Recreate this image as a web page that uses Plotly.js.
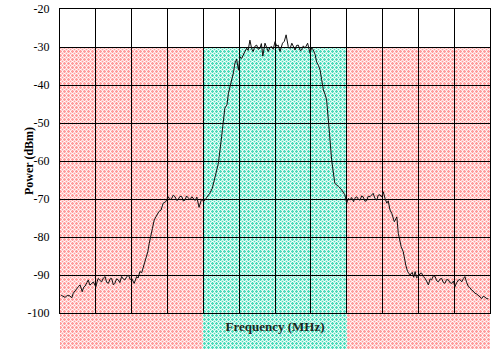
<!DOCTYPE html>
<html>
<head>
<meta charset="utf-8">
<script src="https://cdn.plot.ly/plotly-3.0.1.min.js"></script>
<style>html,body{margin:0;padding:0;background:#fff;}#chart{width:499px;height:349px;}</style>
</head>
<body>
<div id="chart"></div>
<script>
// Frequency axis in grid divisions (no tick labels shown in the original)
const freq = [
0.03,0.10,0.14,0.20,0.28,0.33,0.37,0.42,0.47,0.52,0.56,0.62,0.66,0.70,0.75,0.79,0.83,0.87,0.93,1.00,
1.04,1.07,1.12,1.16,1.21,1.26,1.30,1.35,1.40,1.44,1.49,1.53,1.58,1.63,1.67,1.72,1.77,1.81,1.86,1.91,
1.96,2.00,2.07,2.14,2.18,2.23,2.28,2.32,2.39,2.45,2.49,2.54,2.58,2.63,2.70,2.76,2.82,2.88,2.95,3.02,
3.07,3.12,3.16,3.21,3.26,3.30,3.35,3.40,3.44,3.49,3.53,3.58,3.63,3.68,3.72,3.77,3.82,3.88,3.95,4.02,
4.10,4.18,4.25,4.33,4.42,4.51,4.60,4.66,4.70,4.79,4.84,4.88,4.93,4.98,5.02,5.07,5.12,5.16,5.21,5.25,
5.30,5.35,5.39,5.44,5.49,5.53,5.58,5.62,5.66,5.72,5.77,5.81,5.86,5.91,5.95,6.00,6.05,6.09,6.14,6.18,
6.21,6.26,6.31,6.37,6.42,6.47,6.51,6.56,6.60,6.65,6.70,6.74,6.79,6.84,6.91,6.98,7.02,7.07,7.12,7.16,
7.21,7.26,7.30,7.35,7.40,7.44,7.52,7.58,7.67,7.72,7.77,7.86,7.95,8.00,8.05,8.09,8.14,8.19,8.23,8.28,
8.33,8.37,8.42,8.46,8.51,8.56,8.60,8.65,8.70,8.74,8.79,8.84,8.88,8.93,8.98,9.02,9.07,9.12,9.16,9.21,
9.26,9.33,9.40,9.44,9.52,9.58,9.65,9.70,9.77,9.83,9.87,9.91,9.95,10.00,10.05,10.09,10.14,10.19,10.23,10.28,
10.33,10.37,10.42,10.47,10.51,10.56,10.60,10.65,10.70,10.74,10.79,10.84,10.88,10.93,10.98,11.02,11.07,11.12,11.16,11.21,
11.26,11.30,11.35,11.40,11.44,11.49,11.53,11.58,11.63,11.67,11.72,11.77,11.81,11.86,11.91,11.95
];
// Measured power (dBm)
const power = [
-95.3,-95.6,-95.9,-95.4,-95.5,-96.0,-94.8,-94.2,-93.5,-93.0,-92.6,-94.4,-93.2,-92.9,-92.0,-91.3,-92.6,-92.4,-91.8,-93.1,
-91.6,-90.9,-91.5,-91.8,-90.8,-90.4,-91.9,-92.2,-91.0,-90.9,-92.6,-92.2,-91.0,-91.3,-92.0,-90.4,-91.1,-91.3,-90.5,-90.0,
-91.2,-90.9,-92.2,-90.4,-90.8,-89.1,-89.4,-88.2,-86.0,-83.9,-81.7,-79.0,-77.7,-75.5,-74.2,-73.3,-72.9,-71.1,-70.7,-69.4,
-70.2,-69.8,-69.0,-69.4,-70.4,-70.1,-69.3,-69.4,-70.5,-70.3,-69.2,-69.6,-70.2,-69.4,-70.0,-70.4,-69.5,-72.2,-70.1,-70.6,
-69.5,-68.5,-67.2,-64.1,-60.6,-53.6,-46.1,-45.2,-42.2,-38.7,-36.8,-34.3,-33.2,-36.1,-32.6,-33.0,-31.7,-31.2,-30.3,-30.9,
-28.2,-30.5,-31.2,-29.8,-29.5,-30.6,-30.3,-29.1,-32.4,-29.0,-30.2,-31.2,-30.1,-29.9,-30.6,-28.6,-29.8,-29.5,-31.2,-30.0,
-29.0,-28.5,-26.8,-29.9,-30.4,-29.0,-29.8,-30.8,-29.6,-29.5,-30.9,-30.8,-29.7,-30.3,-29.0,-31.7,-30.2,-30.8,-32.0,-33.9,
-34.8,-36.1,-38.5,-41.3,-42.5,-43.9,-52.7,-59.7,-65.9,-66.2,-66.7,-67.6,-68.9,-71.1,-69.8,-70.3,-69.6,-70.7,-69.8,-69.4,
-70.1,-70.3,-69.2,-69.4,-70.6,-70.4,-69.3,-69.4,-68.8,-68.5,-69.9,-70.3,-69.0,-68.9,-69.5,-68.1,-69.8,-71.1,-70.5,-72.9,
-73.8,-76.0,-74.7,-79.0,-82.5,-83.9,-87.4,-89.1,-90.0,-89.3,-90.6,-89.1,-90.7,-90.4,-89.6,-89.5,-90.4,-90.9,-91.6,-92.6,
-91.0,-91.3,-90.2,-90.4,-91.5,-91.8,-91.1,-90.9,-92.0,-92.2,-91.2,-91.3,-92.0,-92.2,-91.6,-93.1,-92.0,-91.3,-91.2,-91.8,
-90.9,-90.4,-92.0,-93.1,-93.3,-94.0,-94.2,-94.8,-95.0,-95.3,-95.7,-96.2,-95.6,-95.8,-96.3,-96.2
];
// Shaded band edges (grid divisions) and their dither colours [dark, light]
const bandEdges = [0, 4, 8, 12];
const bandColors = [['#ff9c9c', '#ffdada'], ['#4cdabb', '#c8f6e9'], ['#ff9c9c', '#ffdada']];
const bandTop = -30;
const xRange = [0, 12];
const yRange = [-100, -20];
const yTickVals = [-100, -90, -80, -70, -60, -50, -40, -30, -20];
const yTickText = ['-100', '-90', '-80', '-70', '-60', '-50', '-40', '-30', '-20'];

const W = 499, H = 349;
const marginL = 60, marginR = 9, marginT = 9, marginB = 36;
const plotW = W - marginL - marginR, plotH = H - marginT - marginB;
const topPaper = (bandTop - yRange[0]) / (yRange[1] - yRange[0]);
const bottomPaper = -marginB / plotH;

// Build one SVG image with dithered band textures (background decoration)
const imgW = plotW, imgH = Math.round((topPaper - bottomPaper) * plotH);
let defs = '', rects = '';
for (let i = 0; i < bandColors.length; i++) {
  const [dk, lt] = bandColors[i];
  defs += "<pattern id='p" + i + "' width='4' height='4' patternUnits='userSpaceOnUse'>" +
    "<rect width='4' height='4' fill='" + lt + "'/>" +
    "<rect width='4' height='1' fill='" + dk + "'/>" +
    "<rect width='1' height='4' fill='" + dk + "'/>" +
    "<rect x='2' y='2' width='1' height='1' fill='" + dk + "'/>" +
    "<rect x='2' y='0' width='1' height='1' fill='#ffffff'/>" +
    "<rect x='0' y='2' width='1' height='1' fill='#ffffff'/>" +
    "</pattern>";
  const x0 = (bandEdges[i] - xRange[0]) / (xRange[1] - xRange[0]) * imgW;
  const x1 = (bandEdges[i + 1] - xRange[0]) / (xRange[1] - xRange[0]) * imgW;
  rects += "<rect x='" + x0 + "' y='0' width='" + (x1 - x0) + "' height='" + imgH + "' fill='url(#p" + i + ")'/>";
}
const svg = "<svg xmlns='http://www.w3.org/2000/svg' width='" + imgW + "' height='" + imgH +
  "' viewBox='0 0 " + imgW + " " + imgH + "' shape-rendering='crispEdges'><defs>" + defs + "</defs>" + rects + "</svg>";
const bandImage = 'data:image/svg+xml;charset=utf-8,' + encodeURIComponent(svg);

const serif = 'Times New Roman, Liberation Serif, serif';
Plotly.newPlot('chart', [{
  x: freq, y: power, type: 'scatter', mode: 'lines',
  line: {color: '#111', width: 1}, hoverinfo: 'skip'
}], {
  width: W, height: H,
  margin: {l: marginL, r: marginR, t: marginT, b: marginB},
  paper_bgcolor: '#ffffff', plot_bgcolor: 'rgba(0,0,0,0)',
  showlegend: false,
  images: [{
    source: bandImage, xref: 'paper', yref: 'paper',
    x: 0, y: topPaper, sizex: 1, sizey: topPaper - bottomPaper,
    xanchor: 'left', yanchor: 'top', sizing: 'stretch', layer: 'below'
  }],
  annotations: [{
    text: '<b>Power (dBm)</b>', xref: 'paper', yref: 'paper', x: 0, y: 0.5,
    xanchor: 'center', yanchor: 'middle', xshift: -31, textangle: -90, showarrow: false,
    font: {family: serif, size: 12, color: '#000'}
  }],
  xaxis: {
    range: xRange, dtick: 1, tick0: 0, showticklabels: false, ticks: '',
    showgrid: true, gridcolor: '#000', gridwidth: 1, zeroline: false,
    showline: true, linecolor: '#000', linewidth: 1, mirror: true,
    title: {text: '<b>Frequency (MHz)</b>', font: {family: serif, size: 13, color: '#1a2a22'}, standoff: 8}
  },
  yaxis: {
    range: yRange, tickvals: yTickVals, ticktext: yTickText, ticks: '',
    ticklabelstandoff: 7,
    tickfont: {family: serif, size: 12, color: '#000'},
    showgrid: true, gridcolor: '#000', gridwidth: 1, zeroline: false,
    showline: true, linecolor: '#000', linewidth: 1, mirror: true
  }
}, {staticPlot: true, displayModeBar: false});
</script>
</body>
</html>
